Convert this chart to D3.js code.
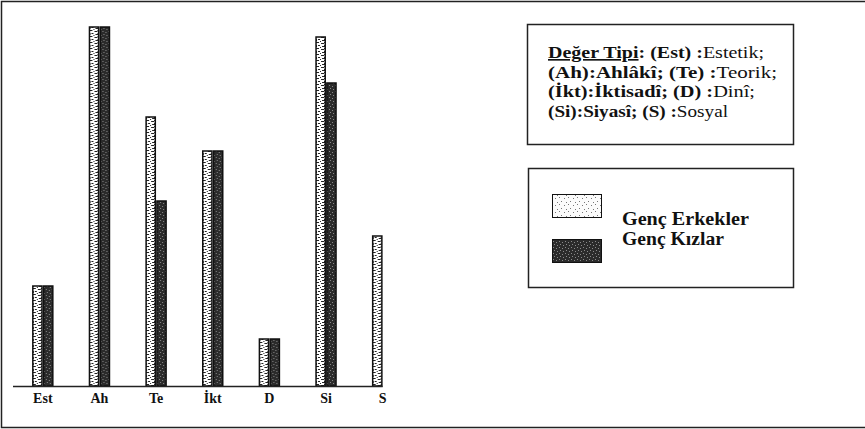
<!DOCTYPE html>
<html lang="tr">
<head>
<meta charset="UTF-8" />
<title>Değer Tipi</title>
<script src="https://cdn.jsdelivr.net/npm/d3@7"></script>
<style>
  body { margin: 0; background: #fff; }
  svg { display: block; }
  svg text { font-family: "Liberation Serif", "Times New Roman", Times, serif; }
</style>
</head>
<body>
<div id="container"></div>
<script>
// data (arbitrary units, no y axis in the original)
const categories = ['Est', 'Ah', 'Te', 'İkt', 'D', 'Si', 'S']
const erkekler = [10.0, 35.9, 26.9, 23.5, 4.7, 34.9, 15.0]
const kizlar = [10.0, 35.9, 18.5, 23.5, 4.7, 30.3, null]
const seriesNames = ['Genç Erkekler', 'Genç Kızlar']
const legendLines = [
  [['Değer Tipi', 'bold', true], [': (Est) :', 'bold'], ['Estetik;', 'normal']],
  [['(Ah):Ahlâkî; (Te) :', 'bold'], ['Teorik;', 'normal']],
  [['(İkt):İktisadî; (D) :', 'bold'], ['Dinî;', 'normal']],
  [['(Si):Siyasî; (S) :', 'bold'], ['Sosyal', 'normal']]
]

const width = 865
const height = 429
const baseY = 386

const svg = d3.select('#container').append('svg')
  .attr('width', width)
  .attr('height', height)
  .attr('viewBox', [0, 0, width, height])

// textures for the two series (scanned look)
const defs = svg.append('defs')
const light = defs.append('pattern')
  .attr('id', 'light').attr('patternUnits', 'userSpaceOnUse')
  .attr('width', 8).attr('height', 6)
light.append('rect').attr('width', 8).attr('height', 6).attr('fill', '#fff')
;[[0, 0, 3, 1], [5, 1, 3, 1], [2, 3, 2, 1], [6, 4, 2, 1], [0, 3, 1, 2], [4, 5, 1, 1]].forEach(r => {
  light.append('rect').attr('x', r[0]).attr('y', r[1]).attr('width', r[2]).attr('height', r[3]).attr('fill', '#222')
})
const swatchLight = defs.append('pattern')
  .attr('id', 'swatchLight').attr('patternUnits', 'userSpaceOnUse')
  .attr('width', 9).attr('height', 7)
swatchLight.append('rect').attr('width', 9).attr('height', 7).attr('fill', '#fbfbfb')
;[[1, 1], [6, 2], [3, 5], [8, 6]].forEach(p => {
  swatchLight.append('rect').attr('x', p[0]).attr('y', p[1]).attr('width', 1).attr('height', 1).attr('fill', '#777')
})
const dark = defs.append('pattern')
  .attr('id', 'dark').attr('patternUnits', 'userSpaceOnUse')
  .attr('width', 6).attr('height', 6)
dark.append('rect').attr('width', 6).attr('height', 6).attr('fill', '#2b2b2b')
;[[1, 1], [4, 2], [2, 4], [5, 5]].forEach(p => {
  dark.append('rect').attr('x', p[0]).attr('y', p[1]).attr('width', 1).attr('height', 1).attr('fill', '#8a8a8a')
})

// outer frame (top, left, bottom)
svg.append('path')
  .attr('d', `M${width},1.5H1.5V427.5H${width}`)
  .attr('fill', 'none').attr('stroke', '#222').attr('stroke-width', 1.5)

const xScale = d3.scaleBand()
  .domain(categories)
  .range([14.5, 411])

const xSub = d3.scaleBand()
  .domain(seriesNames)
  .range([0, 20])
  .paddingInner(0.15)

const yScale = d3.scaleLinear()
  .domain([0, 36])
  .range([baseY, 26])

const rows = categories.map((c, i) => ({ cat: c, vals: [erkekler[i], kizlar[i]] }))

const groups = svg.append('g')
  .selectAll('g')
  .data(rows)
  .join('g')
  .attr('transform', d => `translate(${xScale(d.cat) + xScale.bandwidth() / 2 - 10},0)`)

groups.selectAll('rect')
  .data(d => d.vals.map((v, j) => ({ key: seriesNames[j], v })).filter(e => e.v != null))
  .join('rect')
  .attr('x', d => xSub(d.key))
  .attr('y', d => yScale(d.v))
  .attr('width', xSub.bandwidth())
  .attr('height', d => yScale(0) - yScale(d.v))
  .attr('fill', d => d.key === seriesNames[0] ? 'url(#light)' : 'url(#dark)')
  .attr('stroke', '#111')
  .attr('stroke-width', 1.5)

// x axis: baseline + labels
const xAxis = svg.append('g')
  .attr('transform', `translate(0,${baseY})`)
  .call(d3.axisBottom(xScale).tickSize(0).tickPadding(7))
xAxis.attr('font-family', null)
xAxis.select('.domain').remove()
xAxis.selectAll('text')
  .attr('font-size', 14)
  .attr('font-weight', 'bold')
  .attr('fill', '#111')
svg.append('line')
  .attr('x1', 13).attr('x2', xScale('S') + xScale.bandwidth() / 2)
  .attr('y1', baseY + 0.5).attr('y2', baseY + 0.5)
  .attr('stroke', '#222').attr('stroke-width', 1.5)

// legend box 1: value types
svg.append('rect')
  .attr('x', 527.5).attr('y', 24.5).attr('width', 266).attr('height', 120)
  .attr('fill', 'none').attr('stroke', '#222').attr('stroke-width', 1.5)
const lineWidths = [216, 229, 207, 180]
legendLines.forEach((parts, i) => {
  const t = svg.append('text')
    .attr('x', 548).attr('y', 58 + i * 19.5)
    .attr('font-size', 16.5)
    .attr('fill', '#111')
    .attr('textLength', lineWidths[i])
    .attr('lengthAdjust', 'spacingAndGlyphs')
  parts.forEach(p => {
    t.append('tspan')
      .attr('font-weight', p[1])
      .attr('text-decoration', p[2] ? 'underline' : null)
      .text(p[0])
  })
})

// legend box 2: series
svg.append('rect')
  .attr('x', 528.5).attr('y', 168.5).attr('width', 265).attr('height', 119)
  .attr('fill', 'none').attr('stroke', '#222').attr('stroke-width', 1.5)
const legend = svg.append('g')
  .selectAll('g')
  .data(seriesNames)
  .join('g')
legend.append('rect')
  .attr('x', 552.5)
  .attr('y', (d, i) => 194.5 + i * 45)
  .attr('width', 49).attr('height', 23)
  .attr('fill', (d, i) => i === 0 ? 'url(#swatchLight)' : 'url(#dark)')
  .attr('stroke', '#111')
legend.append('text')
  .attr('x', 622)
  .attr('y', (d, i) => 225 + i * 20)
  .attr('font-size', 18)
  .attr('font-weight', 'bold')
  .attr('fill', '#111')
  .attr('textLength', (d, i) => i === 0 ? 127 : 102)
  .attr('lengthAdjust', 'spacingAndGlyphs')
  .text(d => d)
</script>
</body>
</html>
